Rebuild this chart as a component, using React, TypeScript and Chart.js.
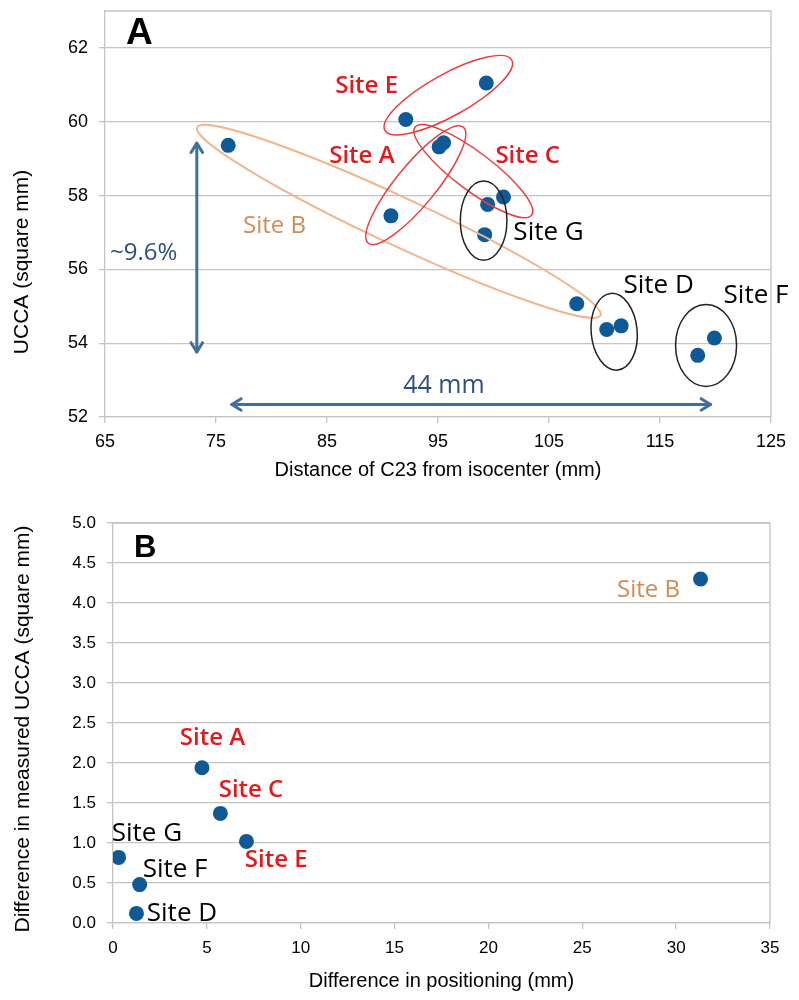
import React, { useEffect, useRef } from "react";
import { Chart, registerables } from "chart.js";

Chart.register(...registerables);

// ---------- Panel A data ----------
const siteOfPointA = ["B", "B", "E", "E", "A", "A", "C", "C", "G", "G", "D", "D", "F", "F"];
const distanceA = [76.1, 107.5, 92.1, 99.35, 90.76, 95.5, 95.1, 100.9, 99.47, 99.2, 110.2, 111.5, 118.4, 119.9];
const uccaA = [59.36, 55.07, 60.06, 61.05, 57.45, 59.43, 59.32, 57.96, 57.76, 56.94, 54.37, 54.47, 53.67, 54.14];
const xTicksA = [65, 75, 85, 95, 105, 115, 125];
const yTicksA = [52, 54, 56, 58, 60, 62];

// ---------- Panel B data ----------
const sitesB = ["Site B", "Site A", "Site C", "Site E", "Site G", "Site F", "Site D"];
const posDiffB = [31.3, 4.74, 5.72, 7.11, 0.3, 1.42, 1.25];
const uccaDiffB = [4.3, 1.94, 1.37, 1.02, 0.82, 0.48, 0.12];
const xTicksB = [0, 5, 10, 15, 20, 25, 30, 35];
const yTicksB = [0, 0.5, 1, 1.5, 2, 2.5, 3, 3.5, 4, 4.5, 5];

// ---------- styles ----------
const DOT = "#0f5a96";
const GRID = "#c4c4c4";
const RED = "#e3191c";
const RED_LINE = "#ee3b3b";
const ORANGE = "#d38b55";
const ORANGE_LINE = "#f2b48a";
const NAVY = "#2d4f7e";
const ARROW = "#41709f";
const AXIS_FONT = "'Liberation Sans', Arial, sans-serif";
const LABEL_FONT = "'Open Sans', 'Noto Sans', sans-serif";

type TextAnn = { text: string; x: number; y: number; color: string; size: number; weight?: string };
type EllAnn = { x: number; y: number; rx: number; ry: number; angle: number; color: string; width: number };
type ArrowAnn = { x1: number; y1: number; x2: number; y2: number };

// annotations of panel A (anchors in data units)
const textsA: TextAnn[] = [
  { text: "Site E", x: 85.74, y: 60.77, color: RED, size: 24, weight: "600" },
  { text: "Site A", x: 85.2, y: 58.88, color: RED, size: 24, weight: "600" },
  { text: "Site C", x: 100.17, y: 58.88, color: RED, size: 24, weight: "600" },
  { text: "Site B", x: 77.44, y: 56.98, color: ORANGE, size: 24 },
  { text: "Site G", x: 101.79, y: 56.79, color: "#000", size: 26 },
  { text: "Site D", x: 111.71, y: 55.35, color: "#000", size: 26 },
  { text: "Site F", x: 120.73, y: 55.08, color: "#000", size: 26 },
  { text: "~9.6%", x: 65.45, y: 56.25, color: NAVY, size: 24 },
  { text: "44 mm", x: 91.87, y: 52.64, color: NAVY, size: 25 },
];
const ellipsesA: EllAnn[] = [
  { x: 91.47, y: 57.3, rx: 222.5, ry: 24, angle: 25, color: ORANGE_LINE, width: 2 },
  { x: 95.93, y: 60.72, rx: 72.5, ry: 21, angle: -29, color: RED_LINE, width: 1.5 },
  { x: 93.0, y: 58.28, rx: 75, ry: 20, angle: -50.7, color: RED_LINE, width: 1.5 },
  { x: 98.18, y: 58.66, rx: 73, ry: 19, angle: 37, color: RED_LINE, width: 1.5 },
  { x: 99.11, y: 57.32, rx: 23.3, ry: 39.7, angle: 0, color: "#222", width: 1.5 },
  { x: 110.87, y: 54.31, rx: 23, ry: 38.5, angle: -5, color: "#222", width: 1.5 },
  { x: 119.15, y: 53.94, rx: 30.5, ry: 41, angle: 0, color: "#222", width: 1.5 },
];
const arrowsA: ArrowAnn[] = [
  { x1: 73.27, y1: 59.42, x2: 73.27, y2: 53.76 },
  { x1: 76.42, y1: 52.34, x2: 119.55, y2: 52.34 },
];

// annotations of panel B
const textsB: TextAnn[] = [
  { text: "Site B", x: 26.85, y: 4.08, color: ORANGE, size: 24 },
  { text: "Site A", x: 3.56, y: 2.22, color: RED, size: 24, weight: "600" },
  { text: "Site C", x: 5.63, y: 1.58, color: RED, size: 24, weight: "600" },
  { text: "Site E", x: 7.02, y: 0.7, color: RED, size: 24, weight: "600" },
  { text: "Site G", x: -0.07, y: 1.02, color: "#000", size: 26 },
  { text: "Site F", x: 1.58, y: 0.57, color: "#000", size: 26 },
  { text: "Site D", x: 1.8, y: 0.02, color: "#000", size: 26 },
];

type PanelCfg = {
  texts: TextAnn[];
  ellipses: EllAnn[];
  arrows: ArrowAnn[];
  letter: string;
  letterPos: [number, number];
  letterSize: number;
  yTitle: string;
  yTitlePos: [number, number];
};

function makePlugin(cfg: PanelCfg) {
  return {
    id: "panelDecor",
    afterDatasetsDraw(chart: any) {
      const { ctx, chartArea } = chart;
      const xs = chart.scales.x;
      const ys = chart.scales.y;
      ctx.save();
      // frame (top and right)
      ctx.strokeStyle = GRID;
      ctx.lineWidth = 1.3;
      ctx.beginPath();
      ctx.moveTo(chartArea.left, chartArea.top);
      ctx.lineTo(chartArea.right, chartArea.top);
      ctx.lineTo(chartArea.right, chartArea.bottom);
      ctx.stroke();

      // ellipses
      for (const e of cfg.ellipses) {
        ctx.beginPath();
        ctx.ellipse(xs.getPixelForValue(e.x), ys.getPixelForValue(e.y), e.rx, e.ry, (e.angle * Math.PI) / 180, 0, Math.PI * 2);
        ctx.strokeStyle = e.color;
        ctx.lineWidth = e.width;
        ctx.stroke();
      }
      // arrows
      ctx.strokeStyle = ARROW;
      ctx.lineWidth = 3;
      ctx.lineCap = "round";
      ctx.lineJoin = "round";
      for (const a of cfg.arrows) {
        const p1x = xs.getPixelForValue(a.x1), p1y = ys.getPixelForValue(a.y1);
        const p2x = xs.getPixelForValue(a.x2), p2y = ys.getPixelForValue(a.y2);
        ctx.beginPath();
        ctx.moveTo(p1x, p1y);
        ctx.lineTo(p2x, p2y);
        ctx.stroke();
        const ang = Math.atan2(p2y - p1y, p2x - p1x);
        const L = 11, spread = 0.55;
        const head = (tx: number, ty: number, dir: number) => {
          ctx.beginPath();
          ctx.moveTo(tx + L * Math.cos(dir + spread), ty + L * Math.sin(dir + spread));
          ctx.lineTo(tx, ty);
          ctx.lineTo(tx + L * Math.cos(dir - spread), ty + L * Math.sin(dir - spread));
          ctx.stroke();
        };
        head(p2x, p2y, ang + Math.PI);
        head(p1x, p1y, ang);
      }
      // texts
      ctx.textAlign = "left";
      ctx.textBaseline = "alphabetic";
      for (const t of cfg.texts) {
        ctx.font = `${t.weight || "normal"} ${t.size}px ${LABEL_FONT}`;
        ctx.fillStyle = t.color;
        ctx.fillText(t.text, xs.getPixelForValue(t.x), ys.getPixelForValue(t.y));
      }
      // panel letter
      ctx.font = `bold ${cfg.letterSize}px ${AXIS_FONT}`;
      ctx.fillStyle = "#000";
      ctx.fillText(cfg.letter, cfg.letterPos[0], cfg.letterPos[1]);
      // y axis title
      ctx.save();
      ctx.translate(cfg.yTitlePos[0], cfg.yTitlePos[1]);
      ctx.rotate(-Math.PI / 2);
      ctx.textAlign = "center";
      ctx.textBaseline = "middle";
      ctx.font = `21px ${AXIS_FONT}`;
      ctx.fillStyle = "#000";
      ctx.fillText(cfg.yTitle, 0, 0);
      ctx.restore();
      ctx.restore();
    },
  };
}

function buildConfig(opts: {
  xs: number[];
  ys: number[];
  xTicks: number[];
  yTicks: number[];
  xMin: number;
  xMax: number;
  yMin: number;
  yMax: number;
  xTitle: string;
  yDecimals: number;
  pad: { left: number; right: number; top: number; bottom: number };
  yWidth: number;
  xHeight: number;
  xTitlePadBottom: number;
  tickSize: number;
  yTickPad: number;
  xTickPad: number;
  tickLen: number;
  plugin: any;
}) {
  return {
    type: "scatter" as const,
    data: {
      datasets: [
        {
          data: opts.xs.map((x, i) => ({ x, y: opts.ys[i] })),
          backgroundColor: DOT,
          borderWidth: 0,
          pointRadius: 7.5,
          pointHoverRadius: 7.5,
        },
      ],
    },
    options: {
      animation: false as const,
      responsive: false,
      events: [],
      layout: { padding: opts.pad },
      plugins: { legend: { display: false }, tooltip: { enabled: false } },
      scales: {
        x: {
          type: "linear" as const,
          min: opts.xMin,
          max: opts.xMax,
          afterBuildTicks: (s: any) => {
            s.ticks = opts.xTicks.map((v) => ({ value: v }));
          },
          afterFit: (s: any) => {
            s.height = opts.xHeight;
            s.paddingLeft = 0;
            s.paddingRight = 0;
            s.paddingTop = 0;
            s.paddingBottom = 0;
          },
          grid: { drawOnChartArea: false, drawTicks: true, tickLength: opts.tickLen, color: GRID, lineWidth: 1.3 },
          border: { display: true, color: GRID, width: 1.3 },
          ticks: {
            font: { family: AXIS_FONT, size: opts.tickSize },
            color: "#000",
            padding: opts.xTickPad,
            maxRotation: 0,
            autoSkip: false,
            callback: (v: any) => String(v),
          },
          title: {
            display: true,
            text: opts.xTitle,
            font: { family: AXIS_FONT, size: 20 },
            color: "#000",
            padding: { top: 0, bottom: opts.xTitlePadBottom },
          },
        },
        y: {
          type: "linear" as const,
          min: opts.yMin,
          max: opts.yMax,
          afterBuildTicks: (s: any) => {
            s.ticks = opts.yTicks.map((v) => ({ value: v }));
          },
          afterFit: (s: any) => {
            s.width = opts.yWidth;
            s.paddingLeft = 0;
            s.paddingRight = 0;
            s.paddingTop = 0;
            s.paddingBottom = 0;
          },
          grid: { drawOnChartArea: true, drawTicks: true, tickLength: opts.tickLen, color: GRID, lineWidth: 1.3 },
          border: { display: true, color: GRID, width: 1.3 },
          ticks: {
            font: { family: AXIS_FONT, size: opts.tickSize },
            color: "#000",
            padding: opts.yTickPad,
            autoSkip: false,
            callback: (v: any) => Number(v).toFixed(opts.yDecimals),
          },
        },
      },
    },
    plugins: [opts.plugin],
  };
}

function ChartCanvas({ config }: { config: any }) {
  const ref = useRef<HTMLCanvasElement | null>(null);
  useEffect(() => {
    if (!ref.current) return;
    const chart = new Chart(ref.current, config);
    return () => chart.destroy();
  }, [config]);
  return <canvas ref={ref} width={799} height={500} style={{ display: "block", width: 799, height: 500 }} />;
}

const configA = buildConfig({
  xs: distanceA,
  ys: uccaA,
  xTicks: xTicksA,
  yTicks: yTicksA,
  xMin: 65,
  xMax: 125,
  yMin: 52,
  yMax: 63,
  xTitle: "Distance of C23 from isocenter (mm)",
  yDecimals: 0,
  pad: { left: 0, right: 28, top: 11, bottom: 0 },
  yWidth: 105,
  xHeight: 83,
  xTitlePadBottom: 18,
  tickSize: 18,
  yTickPad: 11,
  xTickPad: 8,
  tickLen: 6,
  plugin: makePlugin({
    texts: textsA,
    ellipses: ellipsesA,
    arrows: arrowsA,
    letter: "A",
    letterPos: [126, 44],
    letterSize: 37,
    yTitle: "UCCA (square mm)",
    yTitlePos: [22, 262],
  }),
});

const configB = buildConfig({
  xs: posDiffB,
  ys: uccaDiffB,
  xTicks: xTicksB,
  yTicks: yTicksB,
  xMin: 0,
  xMax: 35,
  yMin: 0,
  yMax: 5,
  xTitle: "Difference in positioning (mm)",
  yDecimals: 1,
  pad: { left: 0, right: 29, top: 23, bottom: 0 },
  yWidth: 113,
  xHeight: 77,
  xTitlePadBottom: 7,
  tickSize: 17,
  yTickPad: 11,
  xTickPad: 9,
  tickLen: 6,
  plugin: makePlugin({
    texts: textsB,
    ellipses: [],
    arrows: [],
    letter: "B",
    letterPos: [134, 57],
    letterSize: 31,
    yTitle: "Difference in measured UCCA (square mm)",
    yTitlePos: [23, 229],
  }),
});

export default function App() {
  void siteOfPointA;
  void sitesB;
  return (
    <div style={{ position: "absolute", left: 0, top: 0, width: 799, height: 1000, background: "#fff" }}>
      <div style={{ position: "absolute", left: 0, top: 0, width: 799, height: 500 }}>
        <ChartCanvas config={configA} />
      </div>
      <div style={{ position: "absolute", left: 0, top: 500, width: 799, height: 500 }}>
        <ChartCanvas config={configB} />
      </div>
    </div>
  );
}
